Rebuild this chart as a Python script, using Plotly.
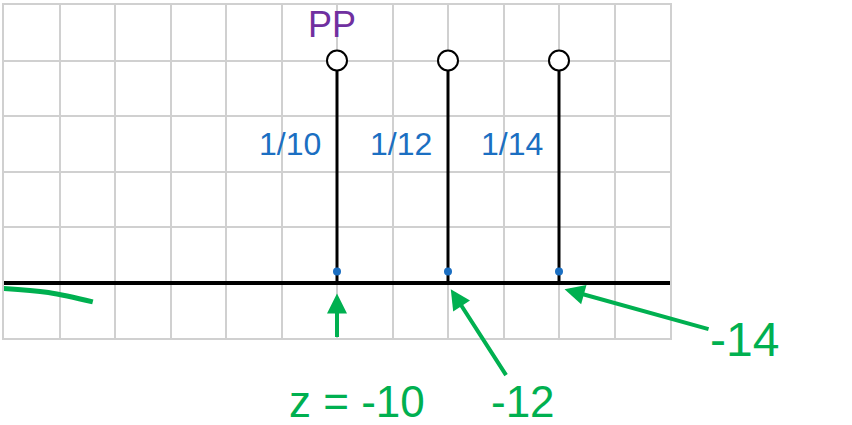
import plotly.graph_objects as go

FONT_FAMILY = "Liberation Sans"
BLUE = "#1b6fc2"
GREEN = "#00b050"
PURPLE = "#7030a0"

# stem plot data
stem_x = [6, 8, 10]
stem_y = [4, 4, 4]
stem_labels = ["1/10", "1/12", "1/14"]
z_labels = ["z = -10", "-12", "-14"]

# hand-drawn green stroke on the left
stroke_x = [-0.1, 0.8, 1.6]
stroke_y = [-0.1, -0.18, -0.35]


def stem_lines(xs, ys):
    lx, ly = [], []
    for x, y in zip(xs, ys):
        lx += [x, x, None]
        ly += [0, y, None]
    return lx, ly


def main():
    fig = go.Figure()

    lx, ly = stem_lines(stem_x, stem_y)
    fig.add_trace(go.Scatter(x=lx, y=ly, mode="lines",
                             line=dict(color="black", width=3), hoverinfo="skip"))
    fig.add_trace(go.Scatter(x=stem_x, y=[0.2] * len(stem_x), mode="markers",
                             marker=dict(color=BLUE, size=8)))
    fig.add_trace(go.Scatter(x=stem_x, y=stem_y, mode="markers",
                             marker=dict(symbol="circle", size=20, color="white",
                                         line=dict(color="black", width=2))))
    fig.add_trace(go.Scatter(x=stroke_x, y=stroke_y, mode="lines",
                             line=dict(color=GREEN, width=5, shape="spline")))

    # blue fractions next to stems
    for x, lab in zip(stem_x, stem_labels):
        fig.add_annotation(x=x - 0.25, y=2.5, text=lab, showarrow=False,
                           xanchor="right", font=dict(color=BLUE, size=32))

    # green labels under the axis
    fig.add_annotation(x=stem_x[0], y=-0.2, ax=0, ay=45, text="",
                       showarrow=True, arrowhead=2, arrowsize=1, arrowwidth=4,
                       arrowcolor=GREEN)
    fig.add_annotation(xref="paper", yref="paper", x=0.53, y=-0.19, text=z_labels[0],
                       showarrow=False, yanchor="middle",
                       font=dict(color=GREEN, size=44))
    fig.add_annotation(x=stem_x[1] + 0.05, y=-0.12, ax=72, ay=112, text=z_labels[1],
                       showarrow=True, arrowhead=2, arrowsize=1, arrowwidth=4,
                       arrowcolor=GREEN, font=dict(color=GREEN, size=44))
    fig.add_annotation(x=stem_x[2] + 0.1, y=-0.12, ax=180, ay=50, text=z_labels[2],
                       showarrow=True, arrowhead=2, arrowsize=1, arrowwidth=4,
                       arrowcolor=GREEN, font=dict(color=GREEN, size=48))
    fig.add_annotation(xref="paper", yref="paper", x=0.493, y=1.01, text="PP",
                       showarrow=False, yanchor="top",
                       font=dict(color=PURPLE, size=36))

    grid = dict(showgrid=True, gridcolor="#d0d0d0", gridwidth=2, dtick=1,
                showline=True, linecolor="#d0d0d0", linewidth=2, mirror=True,
                showticklabels=False, ticks="")
    fig.update_layout(
        width=852, height=425,
        margin=dict(l=4, r=182, t=5, b=87, autoexpand=False),
        paper_bgcolor="white", plot_bgcolor="white",
        showlegend=False,
        font=dict(family=FONT_FAMILY),
        xaxis=dict(range=[0, 12], zeroline=False, **grid),
        yaxis=dict(range=[-1, 5], zeroline=True, zerolinecolor="black",
                   zerolinewidth=4, **grid),
    )
    fig.write_html("out.html", config={"displayModeBar": False},
                   post_script="document.body.style.margin='0';")


if __name__ == "__main__":
    main()
